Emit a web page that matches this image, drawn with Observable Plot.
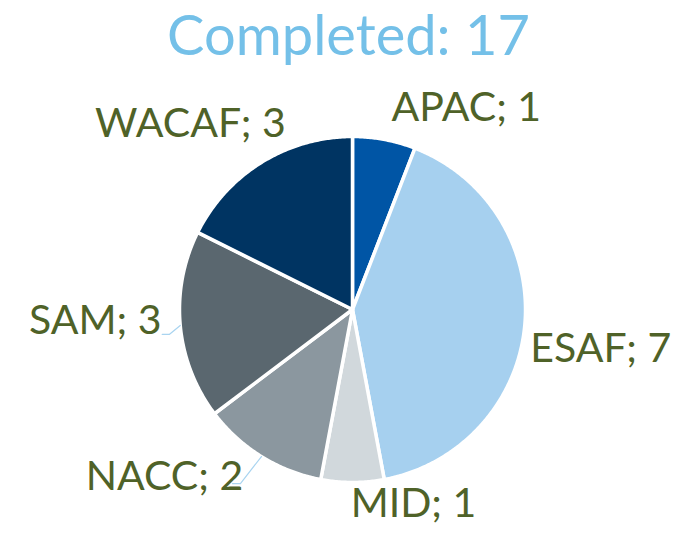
<!DOCTYPE html>
<html>
<head>
<meta charset="utf-8">
<script src="https://cdn.jsdelivr.net/npm/d3@7"></script>
<script src="https://cdn.jsdelivr.net/npm/@observablehq/plot@0.6"></script>
<style>
  html, body { margin: 0; padding: 0; background: #ffffff; }
  #title {
    width: 693px; height: 68px; line-height: 68px; margin: 0;
    font-family: Lato, sans-serif; font-size: 56px; color: #74c0e8;
    text-align: center; white-space: nowrap; padding-left: 4px; box-sizing: border-box;
  }
  #chart svg { display: block; }
</style>
</head>
<body>
<div id="title"></div>
<div id="chart"></div>
<script>
// ---- data ----
const categories = ["APAC", "ESAF", "MID", "NACC", "SAM", "WACAF"];
const values = [1, 7, 1, 2, 3, 3];
const titleText = "Completed: 17";

// ---- styles / layout ----
const sliceColors = ["#0055a5", "#a6d0ef", "#d1d8dc", "#8b979f", "#5a676f", "#003462"];
const labelColor = "#4f6228";
const leaderColor = "#a9d4f0";
const R = 173;            // pie radius in px
const TITLE_H = 68;
const W = 693, H = 534 - TITLE_H;
const CX = 352, CY = 309 - TITLE_H; // pie centre in svg px
// label offsets (px) from the slice's mid-angle edge point
const labelOffset = {
  APAC: [82, -32], ESAF: [76, 23], MID: [61, 21],
  NACC: [-97, 20], SAM: [-85, -5], WACAF: [-71, -39]
};
// leader lines: offsets (px) of elbow and end from mid-angle edge point
const leaders = {
  SAM: [[-11, 9], [-18, 9]],
  NACC: [[-21, 27], [-29, 27]]
};

document.getElementById("title").textContent = titleText;

// ---- geometry ----
const pie = d3.pie().sort(null).value(d => d.value).startAngle(0).endAngle(2 * Math.PI);
const arcs = pie(categories.map((c, i) => ({name: c, value: values[i]})));
const polar = (a, r) => [r * Math.sin(a), r * Math.cos(a)];

const slicePts = [];
arcs.forEach(a => {
  const name = a.data.name;
  slicePts.push({name, x: 0, y: 0});
  const n = Math.max(2, Math.ceil((a.endAngle - a.startAngle) / (Math.PI / 360)));
  for (let k = 0; k <= n; k++) {
    const t = a.startAngle + (a.endAngle - a.startAngle) * k / n;
    const [x, y] = polar(t, 1);
    slicePts.push({name, x, y});
  }
  slicePts.push({name, x: 0, y: 0});
});

const labels = arcs.map(a => {
  const name = a.data.name;
  const mid = (a.startAngle + a.endAngle) / 2;
  const [ex, ey] = polar(mid, 1);
  const [ox, oy] = labelOffset[name];
  return {name, text: `${name}; ${a.data.value}`, x: ex + ox / R, y: ey - oy / R};
});

const leaderPts = [];
arcs.forEach(a => {
  const name = a.data.name;
  if (!leaders[name]) return;
  const mid = (a.startAngle + a.endAngle) / 2;
  const [ex, ey] = polar(mid, 1);
  leaderPts.push({name, x: ex, y: ey});
  leaders[name].forEach(([ox, oy]) => leaderPts.push({name, x: ex + ox / R, y: ey - oy / R}));
});

const plot = Plot.plot({
  width: W,
  height: H,
  margin: 0,
  style: {background: "#ffffff"},
  x: {domain: [-CX / R, (W - CX) / R], axis: null},
  y: {domain: [-(H - CY) / R, CY / R], axis: null},
  color: {domain: categories, range: sliceColors},
  marks: [
    Plot.line(slicePts, {
      x: "x", y: "y", z: "name", fill: "name",
      stroke: "#ffffff", strokeWidth: 3.5, strokeLinejoin: "round", curve: "linear"
    }),
    Plot.line(leaderPts, {x: "x", y: "y", z: "name", stroke: leaderColor, strokeWidth: 1.2}),
    Plot.text(labels, {
      x: "x", y: "y", text: "text", fill: labelColor,
      fontSize: 41, fontFamily: "Lato", textAnchor: "middle", lineAnchor: "middle"
    })
  ]
});
document.getElementById("chart").appendChild(plot);
</script>
</body>
</html>
